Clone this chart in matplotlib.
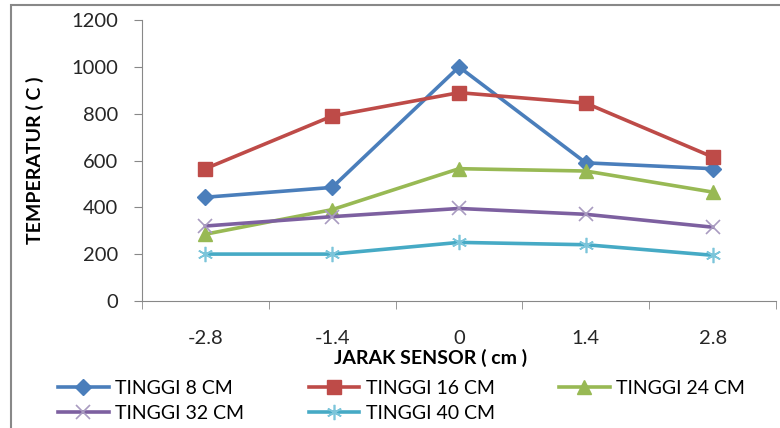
import numpy as np
import matplotlib.pyplot as plt
from matplotlib.patches import Rectangle

plt.rcParams['font.family'] = ['Lato', 'DejaVu Sans']

jarak = ['-2.8', '-1.4', '0', '1.4', '2.8']
tinggi_8 = [443, 485, 1000, 590, 565]
tinggi_16 = [565, 790, 890, 845, 615]
tinggi_24 = [285, 390, 565, 555, 465]
tinggi_32 = [320, 360, 395, 370, 315]
tinggi_40 = [200, 200, 250, 240, 195]

fig = plt.figure(figsize=(7.8, 4.28), dpi=100)
ax = fig.add_axes([0.182, 0.297, 0.813, 0.656])

x = np.arange(len(jarak))
l8, = ax.plot(x, tinggi_8, color='#4A7EBB', lw=2.6, marker='D', ms=8.5, label='TINGGI 8 CM')
l16, = ax.plot(x, tinggi_16, color='#BE4B48', lw=2.6, marker='s', ms=10.5, label='TINGGI 16 CM')
l24, = ax.plot(x, tinggi_24, color='#98B954', lw=2.6, marker='^', ms=10.5, label='TINGGI 24 CM')
l32, = ax.plot(x, tinggi_32, color='#7D60A0', lw=2.6, marker='x', ms=10, mew=1.2,
               mec='#A99BC0', label='TINGGI 32 CM')
l40, = ax.plot(x, tinggi_40, color='#46AAC5', lw=2.6, marker=(6, 2, 0), ms=11, mew=1.2,
               mec='#7CC5DA', label='TINGGI 40 CM')

ax.set_ylim(0, 1200)
ax.set_yticks(range(0, 1201, 200))
ax.set_xlim(-0.5, 4.5)
ax.set_xticks(x)
ax.set_xticklabels(jarak)
ax.set_xticks(np.arange(-0.5, 4.6, 1), minor=True)
ax.tick_params(axis='x', which='major', length=0, pad=21, labelsize=14.5, labelcolor='#262626')
ax.tick_params(axis='x', which='minor', length=6, color='#888888')
ax.tick_params(axis='y', length=6, color='#888888', labelsize=14.5, pad=11, labelcolor='#262626')

for s in ['top', 'right']:
    ax.spines[s].set_visible(False)
for s in ['left', 'bottom']:
    ax.spines[s].set_color('#888888')

fig.text(431 / 780, 1 - 358 / 428, 'JARAK SENSOR ( cm )', fontsize=14,
         fontweight='bold', ha='center', va='center')
fig.text(35 / 780, 1 - 160 / 428, 'TEMPERATUR ( C )', fontsize=14,
         fontweight='bold', ha='center', va='center', rotation=90)

handles = [l8, l32, l16, l40, l24]
fig.legend(handles, [h.get_label() for h in handles], loc='upper left',
           bbox_to_anchor=(58 / 780, 1 - 380 / 428), bbox_transform=fig.transFigure,
           ncol=3, frameon=False, fontsize=14, handlelength=2.6, columnspacing=3.3,
           handletextpad=0.35, labelspacing=0.42, borderpad=0, borderaxespad=0)

fig.patches.append(Rectangle((0.014, -0.1), 1.2, 1.088, transform=fig.transFigure,
                             fill=False, edgecolor='#888888', lw=1.5))

fig.savefig('out.png', dpi=100)
